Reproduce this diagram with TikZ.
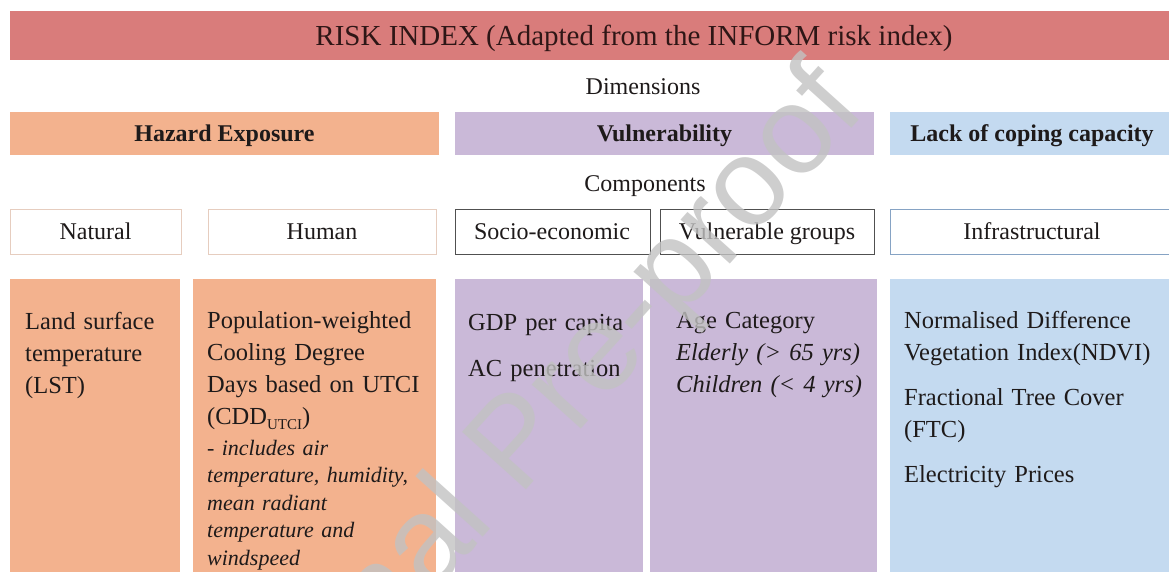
\documentclass[tikz,border=0pt]{standalone}
\usepackage{fontspec}
\setmainfont{Liberation Serif}
\newfontfamily\wmfont{Liberation Sans}
\definecolor{titlebar}{HTML}{D97C7B}
\definecolor{hazfill}{HTML}{F3B28E}
\definecolor{vulfill}{HTML}{CAB9D8}
\definecolor{copfill}{HTML}{C4DAF0}
\definecolor{ink}{HTML}{1E1A1A}
\definecolor{titleink}{HTML}{2E1616}
\definecolor{hazline}{HTML}{E6CDBF}
\definecolor{vulline}{HTML}{505050}
\definecolor{copline}{HTML}{86A3C4}
\definecolor{wmgrey}{HTML}{C2C2C2}
\begin{document}
\begin{tikzpicture}[x=1pt,y=-1pt,
  label/.style={inner sep=0pt, text=ink, anchor=base, font=\fontsize{24}{32}\selectfont},
  dimlabel/.style={label, font=\fontsize{24}{32}\selectfont\bfseries},
  body/.style={inner sep=0pt, text=ink, anchor=base west, align=left,
    font=\fontsize{24.5}{32}\selectfont},
  note/.style={body, font=\fontsize{22}{27.5}\selectfont\itshape},
  compbox/.style={fill=white, line width=1pt},
  wm/.style={inner sep=0pt, text=wmgrey, opacity=0.8, font=\wmfont\fontsize{125}{125}\selectfont}]
\useasboundingbox (0,0) rectangle (1169,572);
\begin{scope}
\clip (0,0) rectangle (1169,572);

% title bar
\fill[titlebar] (10,11) rectangle (1180,60);
\node[label, text=titleink, font=\fontsize{29}{34}\selectfont] (title) at (634,46)
  {RISK INDEX (Adapted from the INFORM risk index)};

% dimensions
\node[label] (dims) at (643,95) {Dimensions};
\fill[hazfill] (10,112) rectangle (439,155);
\fill[vulfill] (455,112) rectangle (874,155);
\fill[copfill] (890,112) rectangle (1180,155);
\node[dimlabel] (haz) at (224.5,141.5) {Hazard Exposure};
\node[dimlabel] (vul) at (664.5,141.5) {Vulnerability};
\node[dimlabel] (cop) at (1032,141.5) {Lack of coping capacity};

% components
\node[label] (comps) at (645,191) {Components};
\draw[compbox, draw=hazline] (10,209) rectangle (181,254);
\draw[compbox, draw=hazline] (208,209) rectangle (436,254);
\draw[compbox, draw=vulline] (455,209) rectangle (650,254);
\draw[compbox, draw=vulline] (660,209) rectangle (874,254);
\draw[compbox, draw=copline] (890,209) rectangle (1180,254);
\node[label] (natural) at (95.5,239.5) {Natural};
\node[label] (human) at (322,239.5) {Human};
\node[label] (socio) at (552,239.5) {Socio-economic};
\node[label] (vgroups) at (767,239.5) {Vulnerable groups};
\node[label] (infra) at (1032,239.5) {Infrastructural};

% indicator columns
\fill[hazfill] (10,279) rectangle (180,590);
\fill[hazfill] (193,279) rectangle (436,590);
\fill[vulfill] (455,279) rectangle (643,590);
\fill[vulfill] (650,279) rectangle (877,590);
\fill[copfill] (890,279) rectangle (1180,590);

\node[body, text width=150pt] (lst) at (25,329)
  {Land surface\\temperature\\(LST)};
\node[body, text width=235pt] (cdd) at (207,328)
  {Population-weighted\\Cooling Degree\\Days based on UTCI\\(CDD\raisebox{-5pt}{\fontsize{15}{15}\selectfont UTCI})};
\node[note, text width=235pt] (cddnote) at (207,455)
  {- includes air\\temperature, humidity,\\mean radiant\\temperature and\\windspeed};
\node[body, text width=180pt] (gdp) at (468,330)
  {GDP per capita\\[14pt]AC penetration};
\node[body, text width=200pt] (age) at (676,328)
  {Age Category\\\textit{Elderly (> 65 yrs)}\\\textit{Children (< 4 yrs)}};
\node[body, text width=270pt] (ndvi) at (904,328)
  {Normalised Difference\\Vegetation Index(NDVI)\\[13pt]Fractional Tree Cover\\(FTC)\\[13pt]Electricity Prices};

% watermark
\node[wm, rotate=48, anchor=base west] (wmark) at (222,828) {Journal Pre-proof};
\end{scope}
\end{tikzpicture}
\end{document}
